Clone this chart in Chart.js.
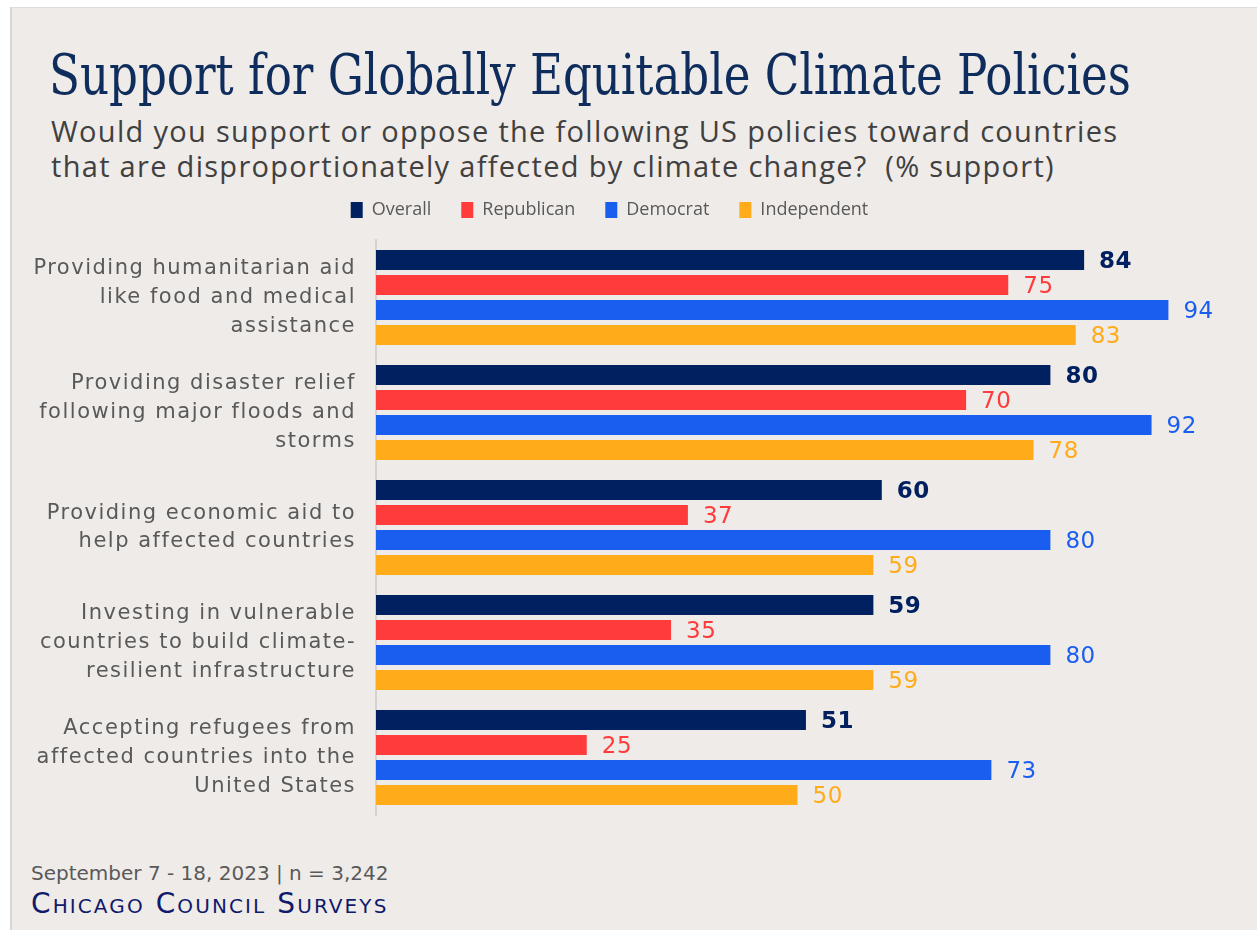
<!DOCTYPE html>
<html>
<head>
<meta charset="utf-8">
<script src="https://cdn.jsdelivr.net/npm/chart.js@4/dist/chart.umd.min.js"></script>
<style>
  body { margin: 0; background: #fff; width: 1257px; height: 930px; overflow: hidden; position: relative; }
  #panel { position: absolute; left: 10px; top: 7px; width: 1247px; height: 923px; background: #efebe8;
           border-left: 2px solid #d6d6d6; border-top: 1px solid #dcdcdc; box-sizing: border-box; }
  #title { position: absolute; left: 49px; top: 42px; font-family: "DejaVu Serif Condensed", "DejaVu Serif", serif;
           font-size: 56px; color: #0f2d5c; white-space: nowrap; transform-origin: 0 0; transform: scaleX(0.896); }
  #subtitle { position: absolute; left: 51px; top: 113px; font-family: "Open Sans", sans-serif; font-size: 29px;
              line-height: 35px; color: #404040; white-space: nowrap; letter-spacing: 1.3px; }
  #wrap { position: absolute; left: 0; top: 171px; width: 1257px; height: 660px; }
  #note { position: absolute; left: 31px; top: 861px; font-family: "DejaVu Sans", sans-serif; font-size: 20px; color: #595959; }
  #brand { position: absolute; left: 31px; top: 887px; font-family: "DejaVu Sans", sans-serif; font-size: 28px;
           color: #0f1a6b; font-variant: small-caps; letter-spacing: 2.1px; }
</style>
</head>
<body>
<div id="panel"></div>
<div id="title">Support for Globally Equitable Climate Policies</div>
<div id="subtitle">Would you support or oppose the following US policies toward countries<br>that are disproportionately affected by climate change?&nbsp; (% support)</div>
<div id="wrap"><canvas id="myChart"></canvas></div>
<div id="note">September 7 - 18, 2023 | n = 3,242</div>
<div id="brand">Chicago Council Surveys</div>
<script>
const categories = [
  ["Providing humanitarian aid", "like food and medical", "assistance"],
  ["Providing disaster relief", "following major floods and", "storms"],
  ["Providing economic aid to", "help affected countries"],
  ["Investing in vulnerable", "countries to build climate-", "resilient infrastructure"],
  ["Accepting refugees from", "affected countries into the", "United States"]
];
const overall = [84, 80, 60, 59, 51];
const republican = [75, 70, 37, 35, 25];
const democrat = [94, 92, 80, 80, 73];
const independent = [83, 78, 59, 59, 50];

const colors = {
  overall: "#002060",
  republican: "#ff3b3b",
  democrat: "#1a5ef0",
  independent: "#ffab1a"
};

// value labels at the end of each bar
const valueLabels = {
  id: "valueLabels",
  afterDatasetsDraw(chart) {
    const ctx = chart.ctx;
    ctx.save();
    ctx.letterSpacing = "0.5px";
    ctx.textBaseline = "middle";
    ctx.textAlign = "left";
    chart.data.datasets.forEach(function (ds, i) {
      const meta = chart.getDatasetMeta(i);
      meta.data.forEach(function (bar, j) {
        ctx.fillStyle = ds.backgroundColor;
        ctx.font = (i === 0 ? "bold " : "") + "23px 'DejaVu Sans', sans-serif";
        ctx.fillText(ds.data[j], bar.x + 15, bar.y + 2);
      });
    });
    ctx.restore();
  }
};

// fixed legend height so the plot starts where the original does,
// and wider letter spacing for the category labels only
const layoutTweaks = {
  id: "layoutTweaks",
  beforeInit(chart) {
    const lg = chart.legend;
    if (!lg) return;
    const fit = lg.fit;
    lg.fit = function () {
      fit.call(this);
      this.height = 69;
    };
    const draw = lg.draw;
    lg.draw = function () {
      const old = chart.ctx.letterSpacing;
      chart.ctx.letterSpacing = "0px";
      draw.call(this);
      chart.ctx.letterSpacing = old;
    };
  },
  beforeDraw(chart) {
    chart.ctx.letterSpacing = "1.5px";
  },
  afterDraw(chart) {
    chart.ctx.letterSpacing = "0px";
  }
};

const chartData = {
  labels: categories,
  datasets: [
    { label: "Overall", data: overall, backgroundColor: colors.overall },
    { label: "Republican", data: republican, backgroundColor: colors.republican },
    { label: "Democrat", data: democrat, backgroundColor: colors.democrat },
    { label: "Independent", data: independent, backgroundColor: colors.independent }
  ]
};

const config = {
  type: "bar",
  data: chartData,
  options: {
    indexAxis: "y",
    responsive: true,
    maintainAspectRatio: false,
    animation: false,
    categoryPercentage: 0.87,
    barPercentage: 0.8,
    layout: { padding: { left: 0, right: 38, top: 0, bottom: 16 } },
    scales: {
      x: { display: false, min: 0, max: 100 },
      y: {
        grid: { display: false, drawTicks: false },
        border: { display: true, color: "#d4d4d4", width: 2 },
        ticks: {
          color: "#595959",
          font: { family: "'DejaVu Sans', sans-serif", size: 21, lineHeight: 1.36 },
          padding: 20
        },
        afterFit(scale) {
          scale.width = 376;
          scale.paddingTop = 0;
          scale.paddingBottom = 0;
        }
      }
    },
    plugins: {
      legend: {
        position: "top",
        labels: {
          boxWidth: 12,
          boxHeight: 16,
          color: "#595959",
          font: { family: "'Open Sans', sans-serif", size: 18 },
          padding: 30
        }
      },
      tooltip: { enabled: false }
    }
  },
  plugins: [valueLabels, layoutTweaks]
};

const myChart = new Chart(document.getElementById("myChart"), config);
</script>
</body>
</html>
